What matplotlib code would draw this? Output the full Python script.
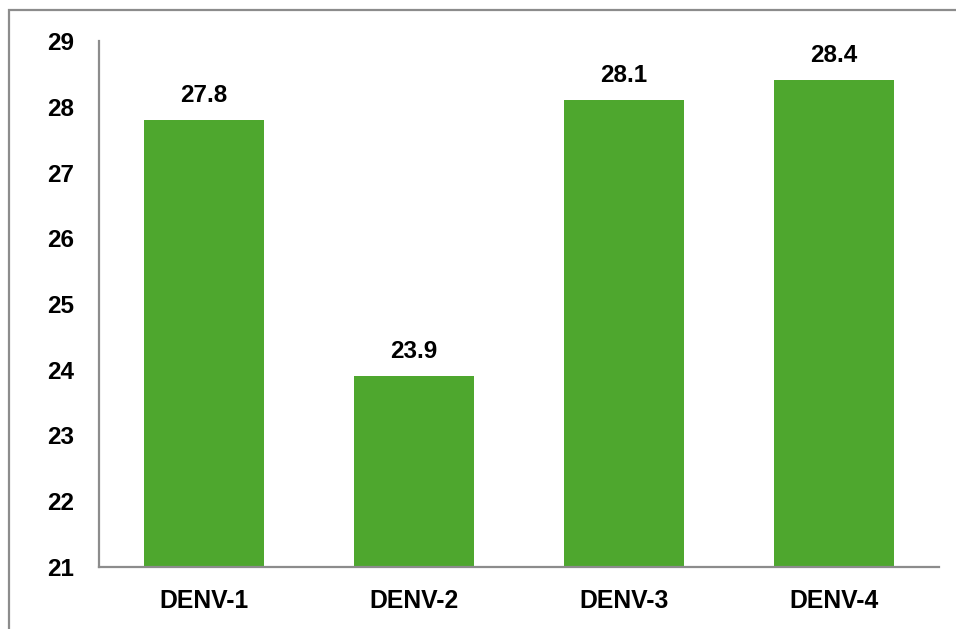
import matplotlib
matplotlib.use("Agg")
import matplotlib.pyplot as plt
from matplotlib.patches import Rectangle

categories = ["DENV-1", "DENV-2", "DENV-3", "DENV-4"]
values = [27.8, 23.9, 28.1, 28.4]
labels = ["27.8", "23.9", "28.1", "28.4"]
yticks = [21, 22, 23, 24, 25, 26, 27, 28, 29]

plt.rcParams['font.family'] = ['Liberation Sans', 'DejaVu Sans']
plt.rcParams['font.weight'] = 'bold'

W, H = 956, 629
dpi = 100
fig = plt.figure(figsize=(W / dpi, H / dpi), dpi=dpi)
fig.patch.set_facecolor('white')

# outer frame (extends past right/bottom edges)
fig.patches.append(Rectangle((9 / W, -0.1), 1.2, 1 - 10 / H + 0.1, transform=fig.transFigure,
                             fill=False, edgecolor='#8c8c8c', linewidth=1.6, zorder=0))

ax = fig.add_axes([99 / W, 1 - 567 / H, 840 / W, (567 - 41) / H])
x = range(len(categories))
ax.bar(x, values, width=0.571, bottom=0, color='#4ea72e', zorder=2)
ax.set_ylim(21, 29)
ax.set_xlim(-0.5, 3.5)
ax.set_yticks(yticks)
ax.set_xticks(list(x))
ax.set_xticklabels(categories)

for sp in ['top', 'right']:
    ax.spines[sp].set_visible(False)
for sp in ['left', 'bottom']:
    ax.spines[sp].set_color('#8c8c8c')
    ax.spines[sp].set_linewidth(1.6)

ax.tick_params(axis='both', length=0, labelsize=17.5, colors='black')
ax.tick_params(axis='y', pad=18)
ax.tick_params(axis='x', pad=15.5, labelsize=17.8)
for t in ax.get_xticklabels() + ax.get_yticklabels():
    t.set_fontweight('bold')

for xi, v, lab in zip(x, values, labels):
    ax.annotate(lab, (xi, v), xytext=(0, 9.4), textcoords='offset points',
                ha='center', va='bottom', fontsize=17.5, fontweight='bold')

fig.savefig('out.png', dpi=dpi)
